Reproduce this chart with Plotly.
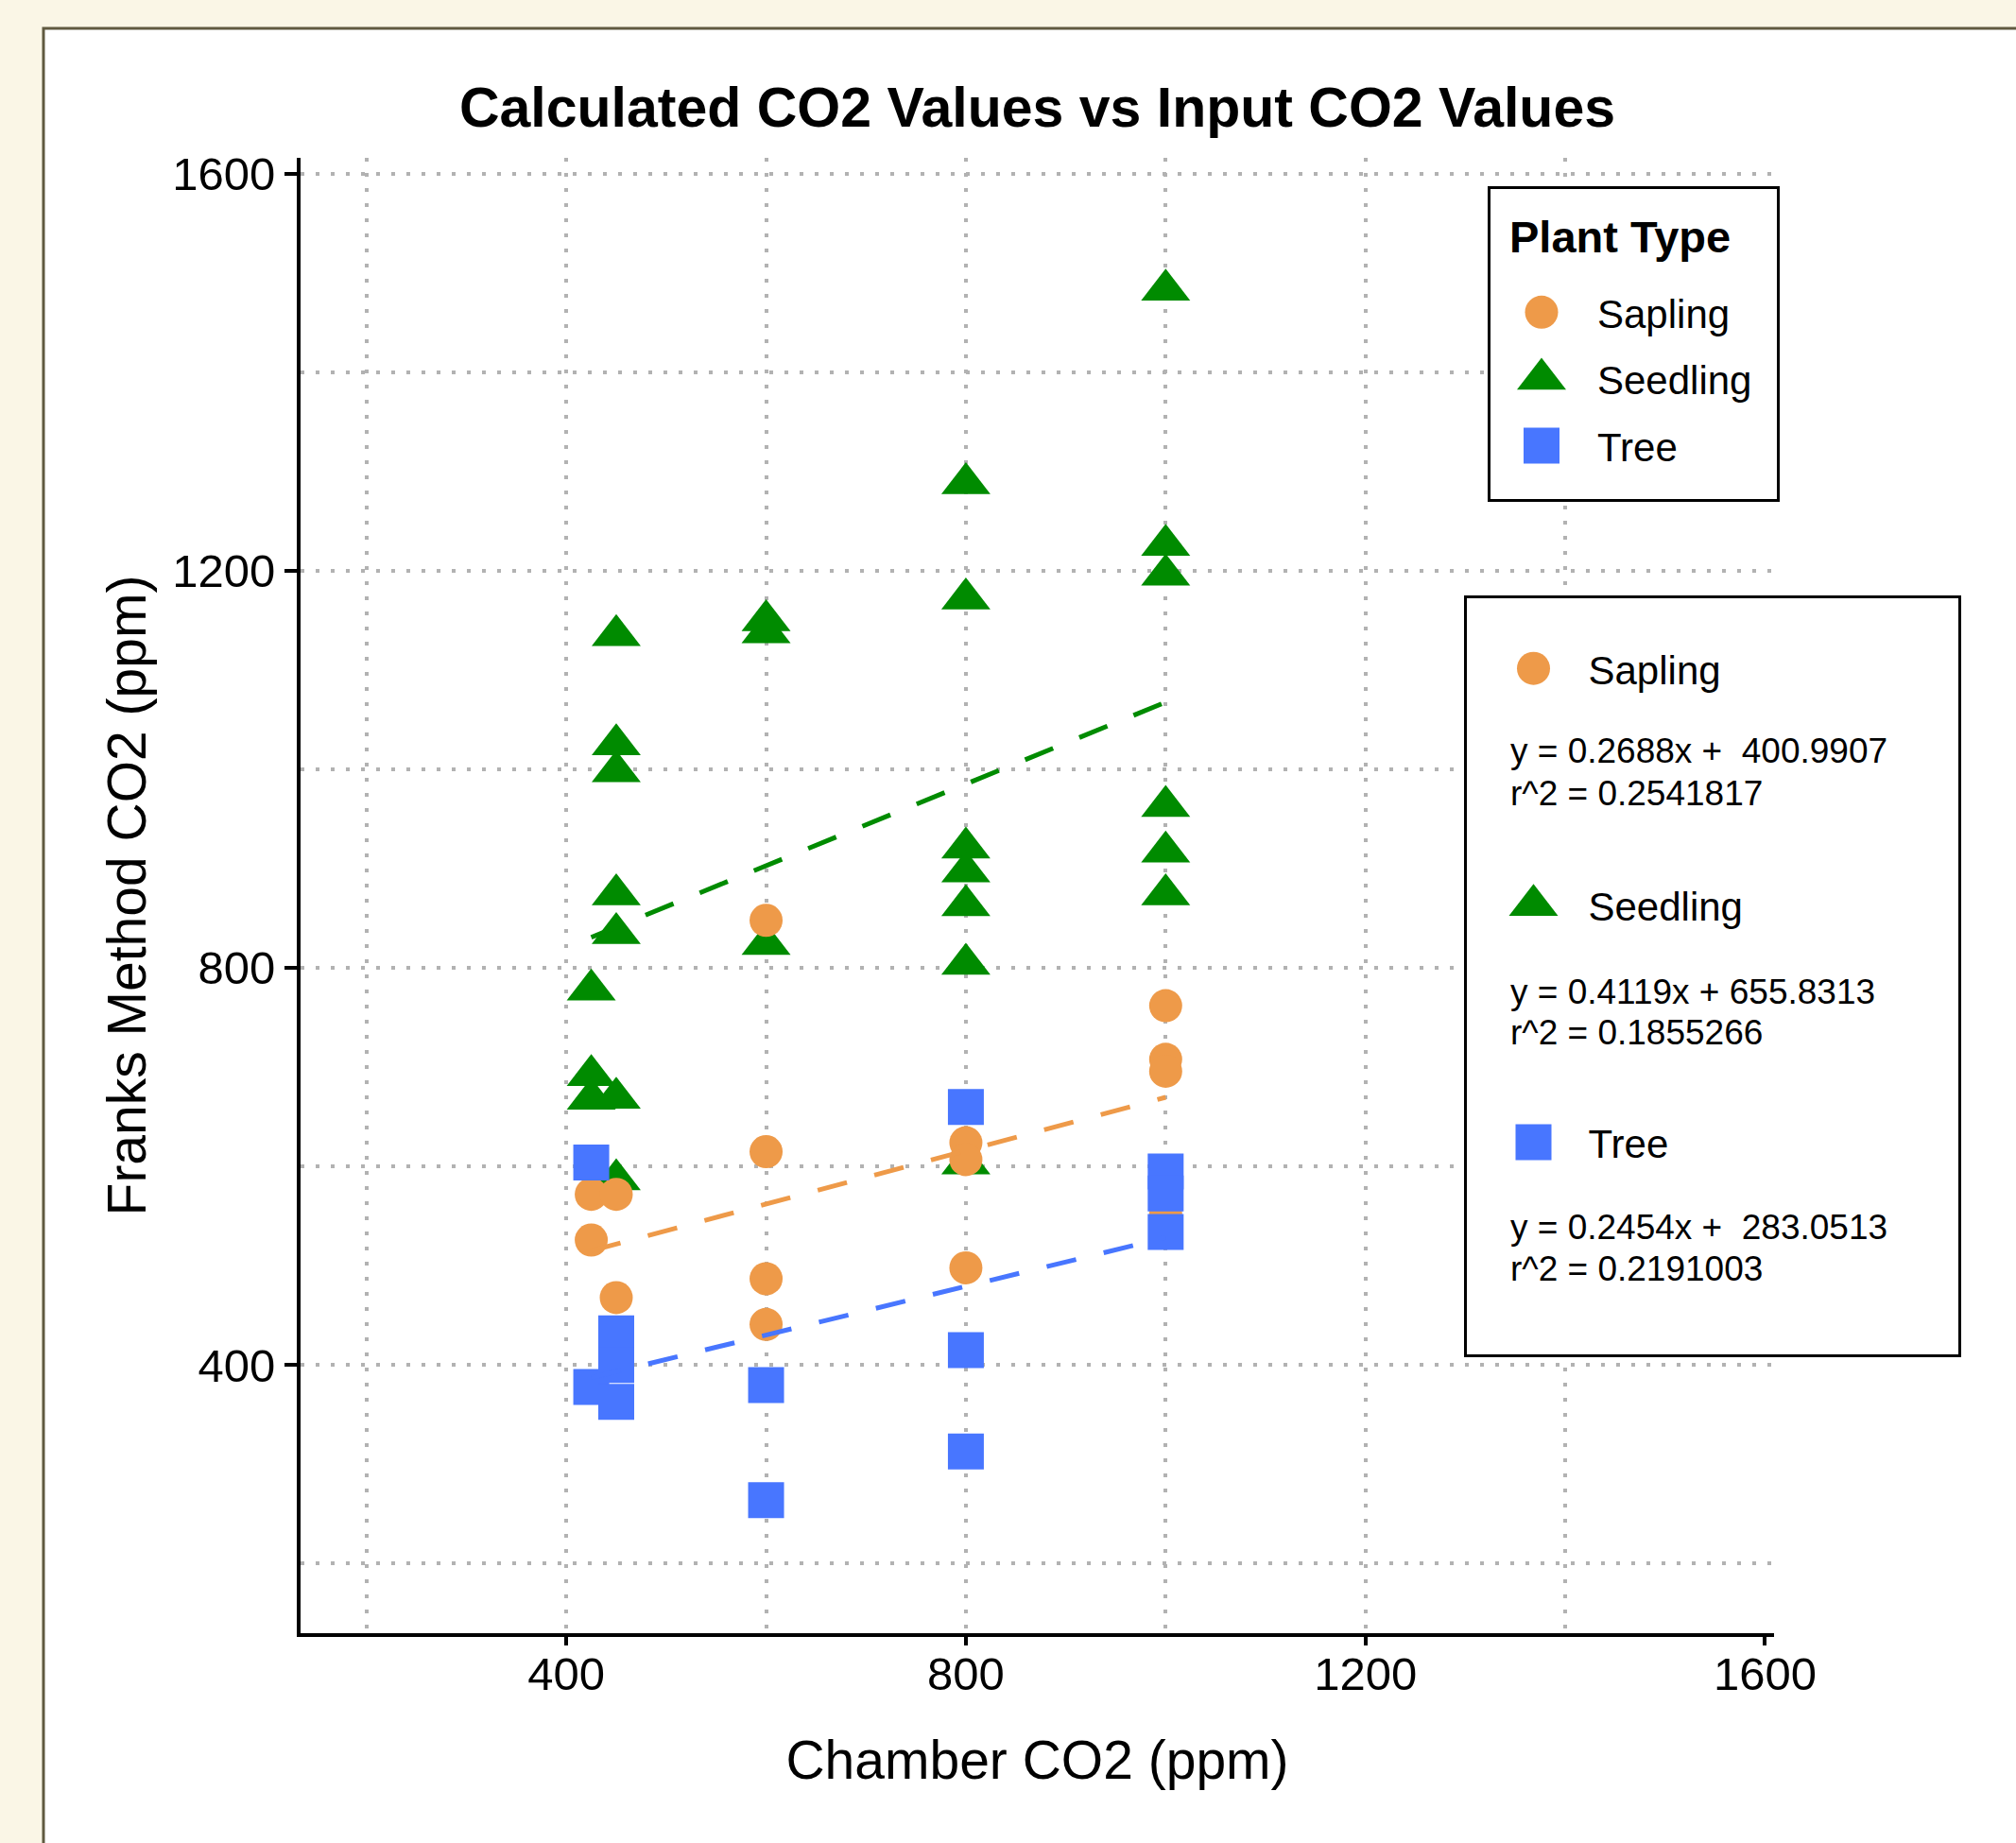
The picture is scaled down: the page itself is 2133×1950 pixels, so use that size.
import plotly.graph_objects as go

# ---------------- data ----------------
plant_types = ["Sapling", "Seedling", "Tree"]

sapling_x = [425, 425, 450, 450, 600, 600, 600, 600, 800, 800, 800, 1000, 1000, 1000, 1000]
sapling_y = [572, 526, 572, 468, 848, 615, 487, 441, 624, 607, 498, 762, 708, 696, 553]

seedling_x = [425, 425, 425, 450, 450, 450, 450, 450, 450, 450, 600, 600, 600,
              800, 800, 800, 800, 800, 800, 800, 1000, 1000, 1000, 1000, 1000, 1000]
seedling_y = [778, 692, 668, 1135, 1025, 998, 874, 835, 669, 587, 1150, 1138, 824,
              1288, 1172, 921, 897, 863, 804, 603, 1483, 1226, 1196, 963, 917, 874]

tree_x = [425, 425, 450, 450, 450, 600, 600, 800, 800, 800, 1000, 1000, 1000]
tree_y = [604, 378, 432, 400, 363, 380, 264, 660, 415, 313, 595, 573, 534]

fit_slopes = [0.2688, 0.4119, 0.2454]
fit_intercepts = [400.9907, 655.8313, 283.0513]
fit_x_span = [425, 1000]
eq_labels = ["y = 0.2688x +  400.9907", "y = 0.4119x + 655.8313", "y = 0.2454x +  283.0513"]
r2_labels = ["r^2 = 0.2541817", "r^2 = 0.1855266", "r^2 = 0.2191003"]

x_tick_vals = [400, 800, 1200, 1600]
y_tick_vals = [400, 800, 1200, 1600]
x_grid_vals = [200, 400, 600, 800, 1000, 1200, 1400]
y_minor_grid_vals = [200, 600, 1000, 1400]

# ---------------- styling ----------------
FONT = "Liberation Sans, Arial, sans-serif"
COLORS = {"Sapling": "#EE9A49", "Seedling": "#008B00", "Tree": "#4876FF"}
SYMBOLS = {"Sapling": "circle", "Seedling": "triangle-up", "Tree": "square"}
SIZES = {"Sapling": 35, "Seedling": 45, "Tree": 38}
GRID = "#b2b2b2"
GRID_DASH = "4px,12px"
CREAM = "#FAF6E6"

W, H = 2133, 1950
PL, PR, PT, PB = 318, 1877, 167, 1728  # plot-area edges in px


def px(x):
    return (x - PL) / (PR - PL)


def py(y):
    return (PB - y) / (PB - PT)


series = {
    "Sapling": (sapling_x, sapling_y),
    "Seedling": (seedling_x, seedling_y),
    "Tree": (tree_x, tree_y),
}

fig = go.Figure()

# markers (draw order: Seedling, Sapling, Tree -> Tree on top)
for name in ["Seedling", "Sapling", "Tree"]:
    xs, ys = series[name]
    fig.add_trace(go.Scatter(
        x=xs, y=ys, mode="markers", name=name,
        marker=dict(symbol=SYMBOLS[name], size=SIZES[name], color=COLORS[name],
                    line=dict(width=0)),
        legend="legend", legendgroup="g1_" + name,
        legendrank=plant_types.index(name) + 1,
        hoverinfo="x+y+name",
    ))

# regression lines (on overlaid axis x2, same range) drawn above markers
for i, name in enumerate(plant_types):
    m, b = fit_slopes[i], fit_intercepts[i]
    fig.add_trace(go.Scatter(
        x=fit_x_span, y=[m * v + b for v in fit_x_span], mode="lines",
        line=dict(color=COLORS[name], width=5, dash="32px,30px"),
        xaxis="x2", showlegend=False, hoverinfo="skip",
    ))

# entries of the second (equation) legend
for i, name in enumerate(plant_types):
    fig.add_trace(go.Scatter(
        x=[None], y=[None], mode="markers", name=name,
        marker=dict(symbol=SYMBOLS[name], size=SIZES[name], color=COLORS[name],
                    line=dict(width=0)),
        legend="legend2", legendgroup="g2_" + name, legendrank=i + 1,
    ))

axis_common = dict(
    showline=True, linewidth=4, linecolor="black",
    ticks="outside", tickwidth=4, tickcolor="black",
    zeroline=False, tickfont=dict(size=49, color="black", family=FONT),
)

annotations = [
    dict(text="<b>Plant Type</b>", x=px(1597), y=py(250.7), xref="paper", yref="paper",
         xanchor="left", yanchor="middle", showarrow=False, borderpad=0, borderwidth=0,
         font=dict(size=47, color="black", family=FONT)),
]
eq_centers = [(794.8, 839.2), (1049.0, 1092.9), (1298.2, 1342.2)]
for i in range(3):
    for txt, yc in zip([eq_labels[i].replace("  ", " \u00a0"), r2_labels[i]], eq_centers[i]):
        annotations.append(dict(
            text=txt, x=px(1598), y=py(yc), xref="paper", yref="paper",
            xanchor="left", yanchor="middle", showarrow=False, borderpad=0, borderwidth=0,
            font=dict(size=37, color="black", family=FONT)))

shapes = [
    # page frame
    dict(type="rect", xref="paper", yref="paper", layer="below",
         x0=px(46), x1=px(W + 40), y0=py(30), y1=py(H + 40),
         line=dict(color="#605A40", width=3), fillcolor="white"),
    # legend boxes
    dict(type="rect", xref="paper", yref="paper", layer="above",
         x0=px(1575.5), x1=px(1881.5), y0=py(198.5), y1=py(529.5),
         line=dict(color="black", width=3), fillcolor="white"),
    dict(type="rect", xref="paper", yref="paper", layer="above",
         x0=px(1550.5), x1=px(2073.5), y0=py(631.5), y1=py(1434.5),
         line=dict(color="black", width=3), fillcolor="white"),
]

fig.update_layout(
    width=W, height=H,
    margin=dict(l=PL, r=W - PR, t=PT, b=H - PB, pad=0, autoexpand=False),
    paper_bgcolor=CREAM, plot_bgcolor="white",
    font=dict(family=FONT, color="black"),
    title=dict(text="<b>Calculated CO2 Values vs Input CO2 Values</b>",
               x=0.5, xref="paper", xanchor="center",
               y=1 - 113 / H, yref="container", yanchor="middle",
               font=dict(size=59, color="black", family=FONT)),
    xaxis=dict(range=[134, 1609], tickmode="array", tickvals=x_tick_vals, ticklen=9,
               showgrid=False, ticklabelstandoff=-12,
               title=dict(text="Chamber CO2 (ppm)", standoff=46,
                          font=dict(size=57, color="black", family=FONT)),
               **axis_common),
    xaxis2=dict(overlaying="x", anchor="y", range=[134, 1609], tickmode="array",
                tickvals=x_grid_vals, showgrid=True, gridcolor=GRID, gridwidth=4,
                griddash=GRID_DASH, showticklabels=False, ticks="", showline=False,
                zeroline=False),
    yaxis=dict(range=[130, 1616], tickmode="array", tickvals=y_tick_vals, ticklen=13,
               showgrid=True, gridcolor=GRID, gridwidth=4, griddash=GRID_DASH,
               minor=dict(tickmode="array", tickvals=y_minor_grid_vals, showgrid=True,
                          gridcolor=GRID, gridwidth=4, griddash=GRID_DASH, ticks=""),
               title=dict(text="Franks Method CO2 (ppm)", standoff=10,
                          font=dict(size=57, color="black", family=FONT)),
               **axis_common),
    legend=dict(x=px(1572), y=py(296.5), xanchor="left", yanchor="top",
                bgcolor="rgba(0,0,0,0)", borderwidth=0, itemwidth=108,
                traceorder="grouped", tracegroupgap=13,
                font=dict(size=42, color="black", family=FONT)),
    legend2=dict(x=px(1564.5), y=py(673.4), xanchor="left", yanchor="top",
                 bgcolor="rgba(0,0,0,0)", borderwidth=0, itemwidth=106,
                 traceorder="grouped", tracegroupgap=193,
                 font=dict(size=42, color="black", family=FONT)),
    shapes=shapes,
    annotations=annotations,
    showlegend=True,
)

post_js = """
document.body.style.margin = '0';
document.body.style.overflow = 'hidden';
var gd = document.getElementsByClassName('plotly-graph-div')[0];
gd.querySelectorAll('.infolayer g.traces').forEach(function(g){
  var d = g.__data__;
  var tr = d && d[0] && d[0].trace;
  var s = (tr && tr.marker && typeof tr.marker.size === 'number') ? tr.marker.size : 16;
  var f = s / 16;
  g.querySelectorAll('path.scatterpts').forEach(function(p){
    var t = p.getAttribute('transform') || '';
    p.setAttribute('transform', t + ' scale(' + f + ')');
  });
});
"""

fig.write_html("out.html", config={"displayModeBar": False}, post_script=post_js)
